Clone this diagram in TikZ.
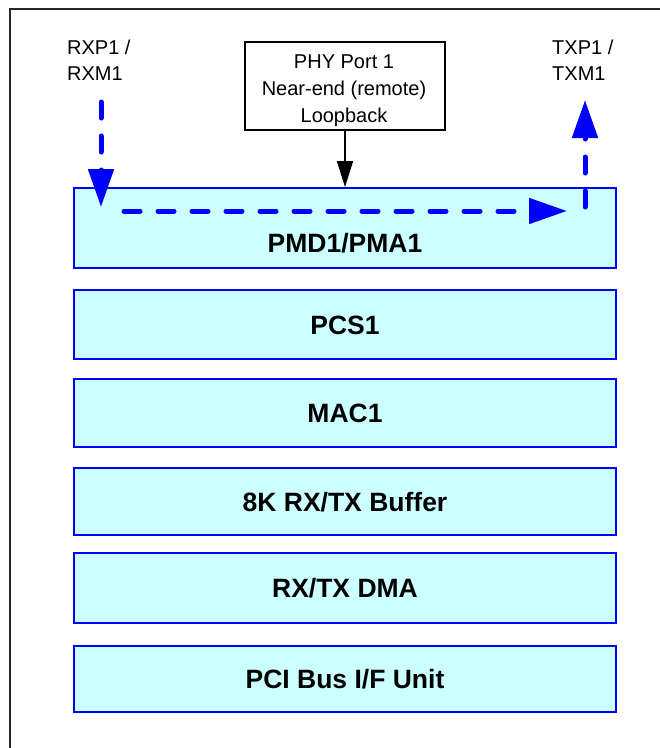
\documentclass[tikz,border=0pt]{standalone}
\usepackage{fontspec}
\setmainfont{Liberation Sans}
\usetikzlibrary{arrows.meta}
\definecolor{boxfill}{HTML}{CCFFFF}
\definecolor{boxline}{HTML}{0000FF}
\begin{document}
\begin{tikzpicture}[x=1pt,y=-1pt,
  layer/.style={draw=boxline, fill=boxfill, line width=2pt, minimum width=542pt, inner sep=0pt,
    font=\bfseries\fontsize{26.5}{30}\selectfont, text height=19pt, text depth=0pt},
  boldtxt/.style={inner sep=0pt, font=\bfseries\fontsize{26.5}{30}\selectfont, text height=19pt, text depth=0pt},
  lbl/.style={font=\fontsize{20}{26}\selectfont, align=left, inner sep=0pt, anchor=north west},
  flow/.style={draw=boxline, line width=5pt, line cap=round, dash pattern=on 16pt off 18pt,
    -{Triangle[width=25pt,length=38pt]}},
  ctrl/.style={draw=black, line width=1.8pt, fill=white, minimum width=200pt, minimum height=88pt,
    inner sep=0pt},
  ctrltxt/.style={align=center, inner sep=0pt, font=\fontsize{20}{27}\selectfont},
]
\useasboundingbox (0,0) rectangle (660,748);
\begin{scope}
  \clip (0,0) rectangle (660,748);
  \draw[line width=2.5pt, black!85] (10,9) rectangle (720,800);
\end{scope}

% layers
\node[layer, minimum height=80pt] (pmd) at (345,228) {};
\node[boldtxt] (pmdt) at (345,243) {PMD1/PMA1};
\node[layer, minimum height=69pt] (pcs) at (345,324.5) {PCS1};
\node[layer, minimum height=68pt] (mac) at (345,413) {MAC1};
\node[layer, minimum height=67pt] (buf) at (345,501.5) {8K RX/TX Buffer};
\node[layer, minimum height=70pt] (dma) at (345,588) {RX/TX DMA};
\node[layer, minimum height=66pt] (pci) at (345,679) {PCI Bus I/F Unit};

% labels
\node[lbl] (rx) at (67,40) {RXP1 /\\RXM1};
\node[lbl] (tx) at (552,40) {TXP1 /\\TXM1};
\node[ctrl] (phy) at (345,86) {};
\node[ctrltxt] (phyt) at (344,91) {PHY Port 1\\Near-end (remote)\\Loopback};

% control arrow
\draw[line width=1.6pt, -{Triangle[width=16pt,length=26pt]}] (phy.south) -- (phy.south |- pmd.north);

% data flow
\coordinate (rxs) at (101,102);
\coordinate (rxe) at (101,207);
\coordinate (hs) at (124,211);
\coordinate (he) at (567,211);
\coordinate (txs) at (585,207);
\coordinate (txe) at (585,100);
\draw[flow] (rxs) -- (rxe);
\draw[flow] (hs) -- (he);
\draw[flow] (txs) -- (txe);
\end{tikzpicture}
\end{document}
